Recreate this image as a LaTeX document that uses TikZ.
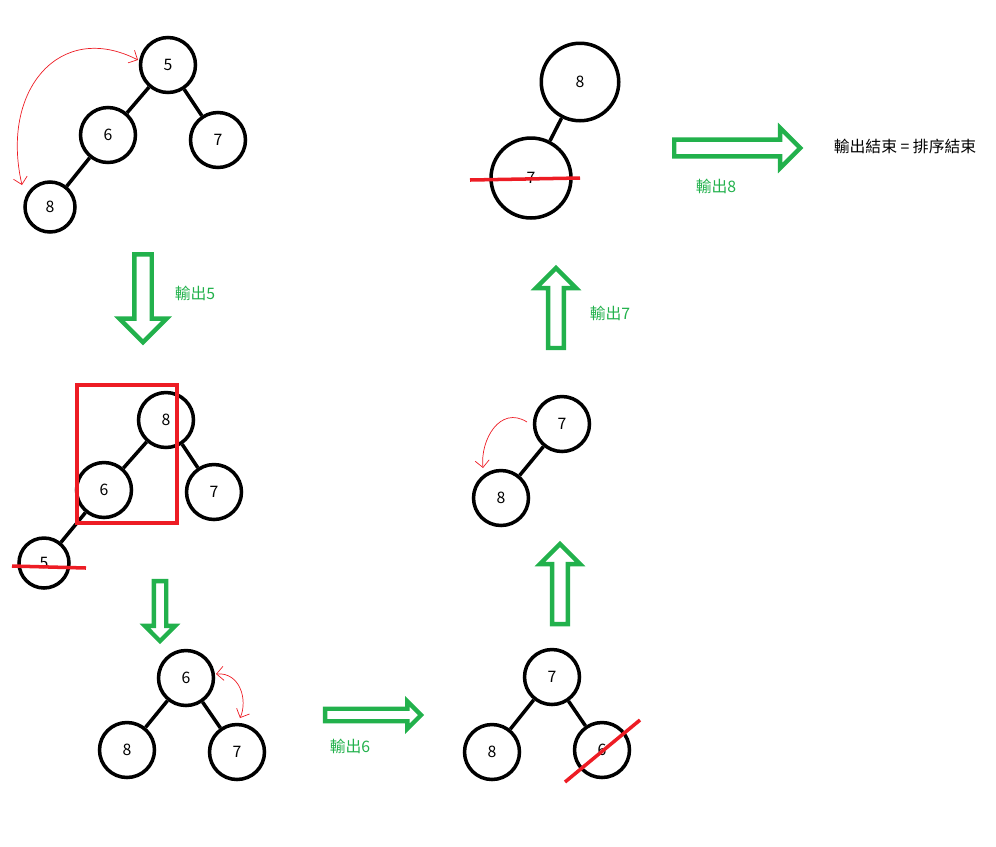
\documentclass[tikz,border=0pt]{standalone}
\usepackage{fontspec}
\setmainfont{Noto Sans CJK TC}
\usetikzlibrary{shapes.arrows, arrows.meta}
\definecolor{hgreen}{RGB}{34,177,76}
\definecolor{hred}{RGB}{237,28,36}
\tikzset{
  heapnode/.style={circle, draw=black, line width=2pt, minimum size=1.1cm, inner sep=0pt, font=\small},
  bignode/.style={heapnode, minimum size=1.55cm},
  link/.style={line width=2pt},
  cross/.style={hred, line width=2pt},
  swap/.style={hred, thin, {Straight Barb[length=4pt]}-{Straight Barb[length=4pt]}},
  blockarrow/.style={single arrow, draw=hgreen, line width=2.5pt, inner sep=0.13cm, single arrow head extend=0.3cm},
  outlabel/.style={text=hgreen, font=\small}
}
\begin{document}
\begin{tikzpicture}[x=0.02cm, y=-0.02cm]
\useasboundingbox (0,0) rectangle (996,846);

% tree 1
\node (a5) [heapnode] at (168,65) {5};
\node (a6) [heapnode] at (108,135) {6};
\node (a7) [heapnode] at (218,140) {7};
\node (a8) [heapnode, minimum size=1.0cm] at (50,207) {8};
\draw [link] (a5) -- (a6);
\draw [link] (a5) -- (a7);
\draw [link] (a6) -- (a8);
\draw [swap] (138,60) .. controls (60,20) and (0,90) .. (22,185);

\node (d1) [blockarrow, shape border rotate=270, minimum height=1.76cm, minimum width=0.9cm] at (143,294) {};
\node (l5) [outlabel] at (195,293) {輸出5};

% tree 2
\node (b8) [heapnode] at (166,420) {8};
\node (b6) [heapnode] at (104,490) {6};
\node (b7) [heapnode] at (214,492) {7};
\node (b5) [heapnode, minimum size=1.0cm] at (44,563) {5};
\draw [link] (b8) -- (b6);
\draw [link] (b8) -- (b7);
\draw [link] (b6) -- (b5);
\draw [cross] (12,566) -- (86,568);
\draw [hred, line width=2.5pt] (77,385) rectangle (177,523);

\node (d2) [blockarrow, shape border rotate=270, minimum height=1.2cm, minimum width=0.6cm, inner sep=0.08cm, single arrow head extend=0.18cm] at (160,608) {};

% tree 3
\node (c6) [heapnode] at (186,678) {6};
\node (c8) [heapnode] at (127,750) {8};
\node (c7) [heapnode] at (237,752) {7};
\draw [link] (c6) -- (c8);
\draw [link] (c6) -- (c7);
\draw [swap] (216,674) .. controls (240,672) and (248,700) .. (240,718);

\node (r1) [blockarrow, minimum height=1.92cm, minimum width=0.55cm, inner sep=0.08cm, single arrow head extend=0.15cm] at (370,715) {};
\node (l6) [outlabel] at (350,746) {輸出6};

% tree 4
\node (e7) [heapnode] at (552,677) {7};
\node (e8) [heapnode] at (492,752) {8};
\node (e6) [heapnode] at (602,750) {6};
\draw [link] (e7) -- (e8);
\draw [link] (e7) -- (e6);
\draw [cross] (565,782) -- (640,720);

\node (u1) [blockarrow, shape border rotate=90, minimum height=1.6cm, minimum width=0.8cm, inner sep=0.1cm, single arrow head extend=0.22cm] at (560,588) {};

% tree 5
\node (f7) [heapnode] at (562,424) {7};
\node (f8) [heapnode] at (501,498) {8};
\draw [link] (f7) -- (f8);
\draw [hred, thin, -{Straight Barb[length=4pt]}] (527,422) .. controls (500,405) and (480,440) .. (483,468);

\node (u2) [blockarrow, shape border rotate=90, minimum height=1.6cm, minimum width=0.8cm, inner sep=0.1cm, single arrow head extend=0.22cm] at (556,312) {};
\node (l7) [outlabel] at (610,313) {輸出7};

% tree 6
\node (g8) [bignode] at (580,82) {8};
\node (g7) [bignode, minimum size=1.6cm] at (531,178) {7};
\draw [link] (g8) -- (g7);
\draw [cross] (470,180) -- (580,178);

\node (r2) [blockarrow, minimum height=2.52cm, minimum width=0.8cm, inner sep=0.1cm, single arrow head extend=0.2cm] at (733,148) {};
\node (l8) [outlabel] at (716,186) {輸出8};
\node (end) [font=\small] at (905,146) {輸出結束 = 排序結束};

\end{tikzpicture}
\end{document}
